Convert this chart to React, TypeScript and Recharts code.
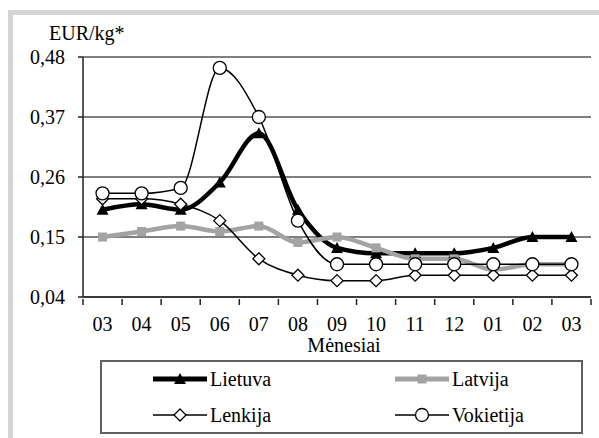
import React from 'react';
import {
  LineChart,
  Line,
  XAxis,
  YAxis,
  CartesianGrid,
  Legend,
} from 'recharts';

const months = ['03', '04', '05', '06', '07', '08', '09', '10', '11', '12', '01', '02', '03'];
const lietuva = [0.2, 0.21, 0.2, 0.25, 0.34, 0.2, 0.13, 0.12, 0.12, 0.12, 0.13, 0.15, 0.15];
const latvija = [0.15, 0.16, 0.17, 0.16, 0.17, 0.14, 0.15, 0.13, 0.11, 0.11, 0.09, 0.1, 0.1];
const lenkija = [0.22, 0.22, 0.21, 0.18, 0.11, 0.08, 0.07, 0.07, 0.08, 0.08, 0.08, 0.08, 0.08];
const vokietija = [0.23, 0.23, 0.24, 0.46, 0.37, 0.18, 0.1, 0.1, 0.1, 0.1, 0.1, 0.1, 0.1];
const yTicks = [0.04, 0.15, 0.26, 0.37, 0.48];

const data = months.map((m, i) => ({
  key: i,
  month: m,
  lietuva: lietuva[i],
  latvija: latvija[i],
  lenkija: lenkija[i],
  vokietija: vokietija[i],
}));

const FONT = "'Liberation Serif', 'Times New Roman', Times, 'DejaVu Serif', 'Noto Serif', serif";
const txt = { fontFamily: FONT, fontSize: 20 };
const GRAY = '#a3a3a3';
const HALF_BAND = 508 / 13 / 2;

const triangle = (cx: number, cy: number, key: any) => (
  <path key={key} d={`M${cx},${cy - 6} L${cx + 6},${cy + 5} L${cx - 6},${cy + 5} Z`} fill="#000" />
);
const square = (cx: number, cy: number, key: any) => (
  <rect key={key} x={cx - 4.5} y={cy - 4.5} width={9} height={9} fill={GRAY} />
);
const diamond = (cx: number, cy: number, key: any) => (
  <path key={key} d={`M${cx},${cy - 6} L${cx + 6},${cy} L${cx},${cy + 6} L${cx - 6},${cy} Z`} fill="#fff" stroke="#000" strokeWidth={1.3} />
);
const circle = (cx: number, cy: number, key: any) => (
  <circle key={key} cx={cx} cy={cy} r={6.5} fill="#fff" stroke="#000" strokeWidth={1.3} />
);

const XTick = (props: any) => {
  const { x, y, payload, index } = props;
  return (
    <g>
      <line x1={x - HALF_BAND} x2={x - HALF_BAND} y1={y} y2={y + 6} stroke="#222" strokeWidth={1.5} />
      {index === months.length - 1 && (
        <line x1={x + HALF_BAND} x2={x + HALF_BAND} y1={y} y2={y + 6} stroke="#222" strokeWidth={1.5} />
      )}
      <text x={x} y={y + 32} textAnchor="middle" style={txt} fill="#000">
        {months[payload.value]}
      </text>
    </g>
  );
};

const legendItems = [
  { name: 'Lietuva', color: '#000', width: 5, marker: triangle, col: 0, row: 0 },
  { name: 'Latvija', color: GRAY, width: 5, marker: square, col: 1, row: 0 },
  { name: 'Lenkija', color: '#000', width: 1.5, marker: diamond, col: 0, row: 1 },
  { name: 'Vokietija', color: '#000', width: 1.5, marker: circle, col: 1, row: 1 },
];

const LegendBox = () => (
  <svg width={479} height={70} style={{ display: 'block' }}>
    {legendItems.map((it, i) => {
      const x0 = it.col === 0 ? 51 : 293;
      const cy = it.row === 0 ? 17 : 53;
      return (
        <g key={i}>
          <line x1={x0} x2={x0 + 54} y1={cy} y2={cy} stroke={it.color} strokeWidth={it.width} />
          {it.marker(x0 + 27, cy, 'm')}
          <text x={x0 + 57} y={cy + 7} style={txt} fill="#000">
            {it.name}
          </text>
        </g>
      );
    })}
  </svg>
);

export default function App() {
  return (
    <div style={{ position: 'absolute', left: 0, top: 0, width: 599, height: 438, background: '#fff', overflow: 'hidden', fontFamily: FONT }}>
      <div
        style={{
          position: 'absolute',
          left: 8,
          top: 10,
          width: 600,
          height: 440,
          borderTop: '5px solid #d4d4d4',
          borderLeft: '5px solid #d4d4d4',
        }}
      />
      <div style={{ position: 'absolute', left: 0, top: 0 }}>
        <LineChart
          width={599}
          height={438}
          data={data}
          margin={{ top: 57, right: 8, bottom: 101, left: 0 }}
          style={{ fontFamily: FONT }}
        >
          <CartesianGrid vertical={false} stroke="#555" strokeWidth={1.3} />
          <XAxis
            dataKey="key"
            interval={0}
            tickSize={0}
            tickLine={false}
            height={40}
            padding={{ left: HALF_BAND, right: HALF_BAND }}
            axisLine={{ stroke: '#222', strokeWidth: 1.5 }}
            tick={(p: any) => <XTick {...p} />}
            label={{
              content: () => (
                <text x={344} y={352} textAnchor="middle" style={txt} fill="#000">
                  Mėnesiai
                </text>
              ),
            }}
          />
          <YAxis
            width={83}
            domain={[0.04, 0.48]}
            ticks={yTicks}
            interval={0}
            tickSize={5}
            tickMargin={13}
            axisLine={{ stroke: '#222', strokeWidth: 1.5 }}
            tickLine={{ stroke: '#222', strokeWidth: 1.5 }}
            tick={{ style: txt, fontFamily: FONT, fontSize: 20, fill: '#000' }}
            tickFormatter={(v: number) => v.toFixed(2).replace('.', ',')}
            label={{
              content: () => (
                <text x={49} y={40} style={txt} fill="#000">
                  EUR/kg*
                </text>
              ),
            }}
          />
          <YAxis
            yAxisId="right"
            orientation="right"
            width={0}
            tick={false}
            tickLine={false}
            axisLine={{ stroke: '#888', strokeWidth: 2 }}
          />
          <Line
            type="monotone"
            dataKey="lietuva"
            name="Lietuva"
            stroke="#000"
            strokeWidth={4.5}
            isAnimationActive={false}
            dot={(p: any) => triangle(p.cx, p.cy, `t${p.index}`)}
          />
          <Line
            type="monotone"
            dataKey="latvija"
            name="Latvija"
            stroke={GRAY}
            strokeWidth={4.5}
            isAnimationActive={false}
            dot={(p: any) => square(p.cx, p.cy, `s${p.index}`)}
          />
          <Line
            type="monotone"
            dataKey="lenkija"
            name="Lenkija"
            stroke="#000"
            strokeWidth={1.5}
            isAnimationActive={false}
            dot={(p: any) => diamond(p.cx, p.cy, `d${p.index}`)}
          />
          <Line
            type="monotone"
            dataKey="vokietija"
            name="Vokietija"
            stroke="#000"
            strokeWidth={1.5}
            isAnimationActive={false}
            dot={(p: any) => circle(p.cx, p.cy, `c${p.index}`)}
          />
          <Legend
            layout="horizontal"
            verticalAlign="middle"
            align="center"
            content={() => <LegendBox />}
            wrapperStyle={{
              position: 'absolute',
              left: 100,
              top: 360,
              width: 483,
              height: 74,
              border: '2px solid #606060',
              boxSizing: 'border-box',
              background: '#fff',
            }}
          />
        </LineChart>
      </div>
    </div>
  );
}
